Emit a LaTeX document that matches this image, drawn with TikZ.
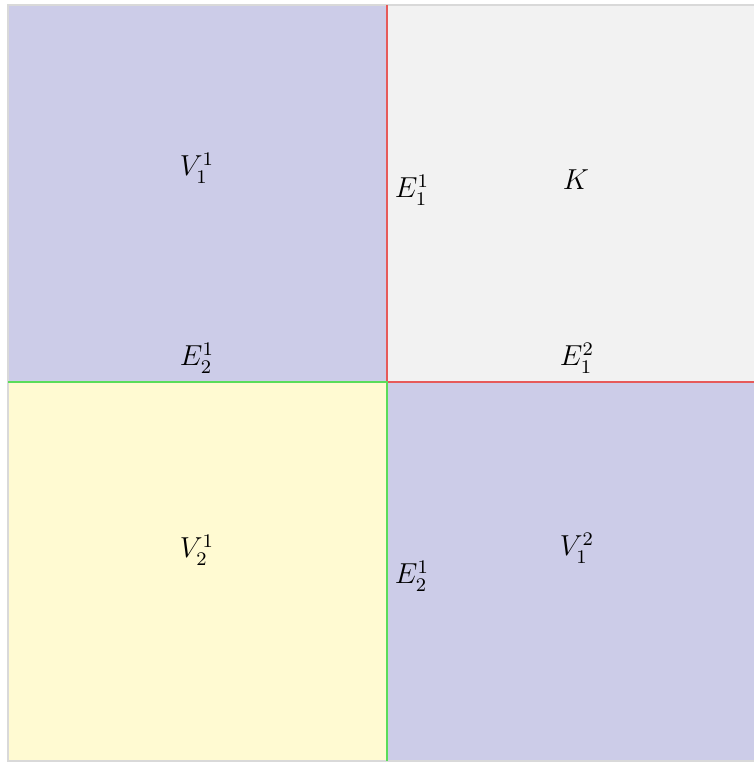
\documentclass[tikz,border=0pt]{standalone}
\usepackage{tikz}
\usetikzlibrary{positioning}
\definecolor{cellblue}{RGB}{204,204,232}
\definecolor{cellgray}{RGB}{242,242,242}
\definecolor{cellyellow}{RGB}{255,250,210}
\definecolor{redgeC}{RGB}{230,90,90}
\definecolor{gedgeC}{RGB}{90,220,90}
\tikzset{
  frm/.style={draw=black!15, line width=0.6pt},
  redge/.style={draw=redgeC, line width=0.8pt},
  gedge/.style={draw=gedgeC, line width=0.8pt},
  lbl/.style={inner sep=1pt, font=\large},
}
\begin{document}
\begin{tikzpicture}[x=0.0146cm, y=-0.0146cm]
\useasboundingbox (0,0) rectangle (754,763);
\clip (0,0) rectangle (754,763);

% cells
\fill[cellblue]   (8,5)     rectangle (387,382);
\fill[cellgray]   (387,5)   rectangle (770,382);
\fill[cellyellow] (8,382)   rectangle (387,761);
\fill[cellblue]   (387,382) rectangle (770,761);
\draw[frm] (770,5) -- (8,5) -- (8,761) -- (770,761);

% edge end points
\coordinate (mid) at (387,382);
\coordinate (top) at (387,5);
\coordinate (rgt) at (770,382);
\coordinate (lft) at (8,382);
\coordinate (bot) at (387,761);

\draw[redge] (top) -- (mid) -- (rgt);
\draw[gedge] (lft) -- (mid) -- (bot);

% labels
\node[lbl] (v11) at (197,168) {$V_1^1$};
\node[lbl] (k)   at (576,180) {$K$};
\node[lbl] (e11) at (412,190) {$E_1^1$};
\node[lbl] (e21) at (197,358) {$E_2^1$};
\node[lbl] (e12) at (577,358) {$E_1^2$};
\node[lbl] (v21) at (197,550) {$V_2^1$};
\node[lbl] (e2b) at (412,576) {$E_2^1$};
\node[lbl] (v12) at (577,548) {$V_1^2$};
\end{tikzpicture}
\end{document}
